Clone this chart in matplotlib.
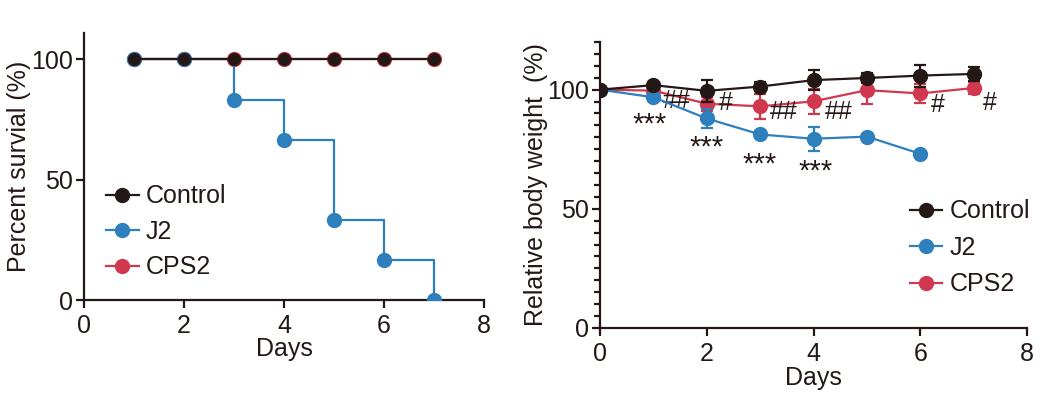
import numpy as np
import matplotlib
matplotlib.use("Agg")
import matplotlib.pyplot as plt
from matplotlib.ticker import MultipleLocator

plt.rcParams['font.family'] = ['Liberation Sans', 'DejaVu Sans']

# colours
c_ctrl = '#231815'
c_j2 = '#2e7fbd'
c_cps2 = '#d0384f'

# --- survival data ---
surv_days = [1, 2, 3, 4, 5, 6, 7]
surv_ctrl = [100, 100, 100, 100, 100, 100, 100]
surv_j2 = [100, 100, 83.3, 66.7, 33.3, 16.7, 0]
surv_cps2 = [100, 100, 100, 100, 100, 100, 100]

# --- body weight data ---
bw_days_full = [0, 1, 2, 3, 4, 5, 6, 7]
bw_ctrl = [100, 101.9, 99.5, 101.3, 104.0, 104.9, 105.9, 106.6]
bw_ctrl_err = [0, 1.0, 4.5, 2.0, 4.2, 2.0, 4.6, 3.0]
bw_cps2 = [100, 99.6, 94.1, 93.0, 95.1, 99.8, 98.4, 100.7]
bw_cps2_err = [0, 1.0, 3.0, 5.3, 5.3, 6.0, 4.0, 2.5]
bw_days_j2 = [0, 1, 2, 3, 4, 5, 6]
bw_j2 = [100, 96.8, 87.9, 81.2, 79.4, 80.3, 73.1]
bw_j2_err = [0, 1.0, 4.0, 1.0, 5.0, 1.0, 0.5]

star_pos = [(0.93, 87.7), (1.99, 78.2), (2.98, 71.1), (4.04, 68.2)]
hash_labels = ['##', '#', '##', '##', '#', '#']
hash_pos = [(1.44, 95.4), (2.36, 94.4), (3.45, 90.5), (4.47, 90.5), (6.33, 93.5), (7.31, 94.4)]

fs = 18
lw = 1.6

fig = plt.figure(figsize=(10.45, 3.98), dpi=100)
ax1 = fig.add_axes([0.0804, 0.2462, 0.3828, 0.671])
ax2 = fig.add_axes([0.5742, 0.1759, 0.4086, 0.7186])

def style(ax):
    for s in ['top', 'right']:
        ax.spines[s].set_visible(False)
    for s in ['left', 'bottom']:
        ax.spines[s].set_linewidth(lw)
        ax.spines[s].set_color(c_ctrl)
    ax.tick_params(which='major', direction='out', length=6, width=lw,
                   labelsize=fs, color=c_ctrl, labelcolor=c_ctrl, pad=2)
    ax.tick_params(axis='x', which='major', pad=4)
    ax.tick_params(which='minor', direction='out', length=4, width=lw, color=c_ctrl)

# left: survival
ax1.plot(surv_days, surv_cps2, color=c_cps2, lw=lw, marker='o', ms=10, zorder=2, label='CPS2')
ax1.step(surv_days, surv_j2, where='post', color=c_j2, lw=lw, zorder=3)
ax1.plot(surv_days, surv_j2, color=c_j2, lw=0, marker='o', ms=10, zorder=3)
ax1.plot(surv_days, surv_ctrl, color=c_ctrl, lw=lw, marker='o', ms=8.5, zorder=4)
ax1.set_xlim(0, 8)
ax1.set_ylim(0, 111)
ax1.set_xticks([0, 2, 4, 6, 8])
ax1.set_yticks([0, 50, 100])
style(ax1)
ax1.spines['left'].set_bounds(0, 111)
ax1.set_xlabel('Days', fontsize=fs, color=c_ctrl, labelpad=-1)
ax1.set_ylabel('Percent survial (%)', fontsize=fs, color=c_ctrl, labelpad=0)

h1 = [plt.Line2D([], [], color=c, lw=lw, marker='o', ms=10) for c in (c_ctrl, c_j2, c_cps2)]
ax1.legend(h1, ['Control', 'J2', 'CPS2'], loc='center left', bbox_to_anchor=(0.055, 0.255),
           frameon=False, fontsize=fs, handlelength=1.3, handletextpad=0.3,
           labelspacing=0.46, borderpad=0, borderaxespad=0, labelcolor=c_ctrl)

# right: body weight
ax2.errorbar(bw_days_full, bw_cps2, yerr=bw_cps2_err, color=c_cps2, lw=lw, marker='o', ms=10,
             capsize=4, capthick=lw, elinewidth=lw, zorder=2)
ax2.errorbar(bw_days_j2, bw_j2, yerr=bw_j2_err, color=c_j2, lw=lw, marker='o', ms=10,
             capsize=4, capthick=lw, elinewidth=lw, zorder=3)
ax2.errorbar(bw_days_full, bw_ctrl, yerr=bw_ctrl_err, color=c_ctrl, lw=lw, marker='o', ms=10,
             capsize=4, capthick=lw, elinewidth=lw, zorder=4)
for (x, y) in star_pos:
    ax2.text(x, y - 2.5, '***', fontsize=21, color=c_ctrl, ha='center', va='center')
for lab, (x, y) in zip(hash_labels, hash_pos):
    ax2.text(x, y, lab, fontsize=18, color=c_ctrl, ha='center', va='center')
ax2.set_xlim(0, 8)
ax2.set_ylim(0, 120)
ax2.set_xticks([0, 2, 4, 6, 8])
ax2.set_yticks([0, 50, 100])
ax2.yaxis.set_minor_locator(MultipleLocator(5))
style(ax2)
ax2.spines['left'].set_bounds(0, 120)
ax2.set_xlabel('Days', fontsize=fs, color=c_ctrl, labelpad=0)
ax2.set_ylabel('Relative body weight  (%)', fontsize=fs, color=c_ctrl, labelpad=-1)

h2 = [plt.Line2D([], [], color=c, lw=lw, marker='o', ms=10) for c in (c_ctrl, c_j2, c_cps2)]
ax2.legend(h2, ['Control', 'J2', 'CPS2'], loc='center left', bbox_to_anchor=(0.725, 0.28),
           frameon=False, fontsize=fs, handlelength=1.3, handletextpad=0.3,
           labelspacing=0.5, borderpad=0, borderaxespad=0, labelcolor=c_ctrl)

fig.savefig('out.png', dpi=100)
